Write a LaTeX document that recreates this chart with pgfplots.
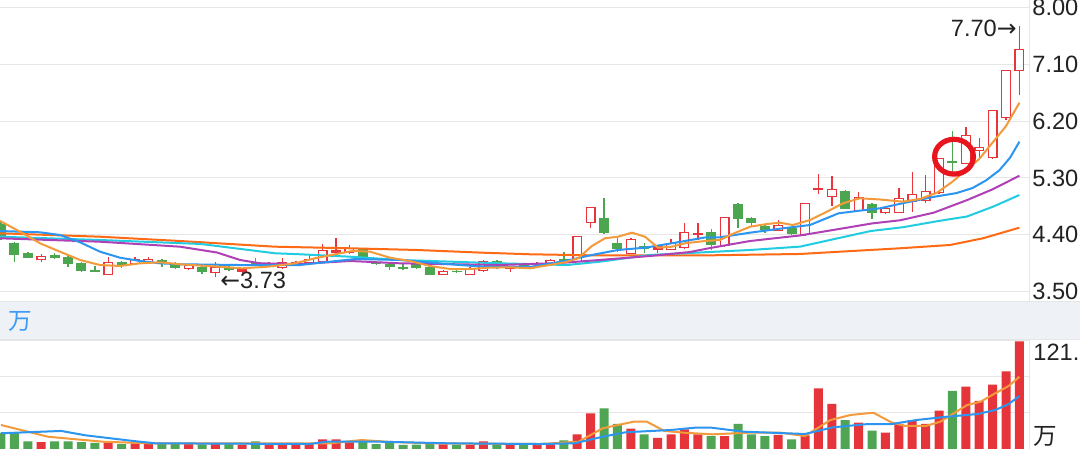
\documentclass[border=0pt]{standalone}
\usepackage{fontspec}
\setmainfont{Liberation Sans}
\newfontfamily\cjk{Noto Sans CJK SC}
\newfontfamily\dejavu{DejaVu Sans}
\usepackage{pgfplots}
\usepackage{pgfplotstable}
\pgfplotsset{compat=1.18}

\definecolor{cred}{HTML}{E8343B}
\definecolor{cgreen}{HTML}{4CA650}
\definecolor{vred}{HTML}{E5343A}
\definecolor{vgreen}{HTML}{4FA553}
\definecolor{ma5}{HTML}{F39A3A}
\definecolor{ma10}{HTML}{2B95F0}
\definecolor{ma20}{HTML}{B040B5}
\definecolor{ma30}{HTML}{22CCE0}
\definecolor{ma60}{HTML}{FF6A14}
\definecolor{gridc}{HTML}{E6E6E6}
\definecolor{bandc}{HTML}{EEF1F5}
\definecolor{labc}{HTML}{222222}
\definecolor{bluet}{HTML}{3D9BF5}
\definecolor{circred}{HTML}{E8141E}
\newcommand\lab{\fontsize{11.8}{14}\selectfont}

% i = day, o h l c = price, v = volume (wan)
\pgfplotstableread{
i o h l c v
0 4.571 4.603 4.318 4.350 18
1 4.271 4.287 3.970 4.081 18
2 4.112 4.128 4.033 4.033 8.6
4 4.081 4.112 4.017 4.033 8.6
5 4.049 4.065 3.891 3.938 8.6
6 3.954 3.970 3.812 3.828 7.8
7 3.843 3.907 3.812 3.812 6.8
9 3.970 3.986 3.875 3.907 5.6
12 4.002 4.017 3.891 3.938 5.6
13 3.954 3.970 3.859 3.875 5.6
15 3.891 3.907 3.780 3.812 5.2
17 3.891 3.907 3.828 3.843 5.6
19 3.970 4.033 3.907 3.923 8.6
27 4.176 4.191 4.002 4.017 8.6
28 3.970 3.986 3.923 3.938 5.6
29 3.938 3.954 3.843 3.891 7.5
30 3.891 3.938 3.843 3.859 4.5
31 3.938 3.954 3.859 3.875 4.9
32 3.891 3.907 3.764 3.764 5.6
34 3.828 3.843 3.796 3.812 4.9
37 3.986 4.002 3.859 3.875 5.6
39 3.938 3.954 3.891 3.907 4.9
42 4.017 4.128 3.954 3.970 9.8
45 4.666 4.983 4.413 4.429 45.7
46 4.271 4.350 4.128 4.176 28.2
48 4.223 4.271 4.112 4.176 16.5
53 4.445 4.492 4.160 4.239 14.6
55 4.888 4.904 4.508 4.650 28.2
56 4.666 4.682 4.540 4.587 16.5
57 4.540 4.555 4.429 4.476 14.6
59 4.508 4.524 4.397 4.413 10.9
63 5.093 5.109 4.809 4.809 32.6
65 4.888 4.904 4.650 4.745 20.6
71 5.568 6.043 5.378 5.536 65.3
}\greenc

\pgfplotstableread{
i o h l c v
3 4.002 4.097 3.970 4.065 7.6
8 3.764 4.049 3.764 3.970 7.8
10 3.938 4.049 3.923 4.017 6.4
11 3.954 4.049 3.938 4.017 5.6
14 3.859 3.938 3.843 3.923 5.6
16 3.796 3.970 3.733 3.891 5.6
21 3.875 4.033 3.859 3.970 5.6
23 3.954 4.081 3.938 4.017 5.6
24 3.970 4.255 3.954 4.160 10.9
26 4.112 4.239 4.097 4.191 7.5
33 3.764 3.843 3.764 3.828 5.2
35 3.764 3.891 3.764 3.859 4.9
36 3.828 4.002 3.812 3.986 8.6
41 3.923 4.017 3.907 4.002 5.2
43 3.970 4.381 3.970 4.381 16.5
44 4.587 4.840 4.508 4.840 40.1
47 4.097 4.350 4.097 4.334 22.9
50 4.160 4.334 4.160 4.271 16.5
51 4.191 4.587 4.176 4.445 22.1
54 4.223 4.682 4.207 4.682 14.6
58 4.460 4.635 4.460 4.555 15.8
60 4.397 4.904 4.381 4.904 15.4
62 4.998 5.331 4.856 5.125 50.7
64 4.777 5.078 4.777 4.998 29.6
66 4.745 4.840 4.729 4.824 18.4
67 4.745 5.141 4.745 4.983 28.2
68 4.919 5.394 4.761 5.046 32.6
69 4.935 5.347 4.904 5.093 28.2
70 5.062 5.616 5.046 5.616 43.1
72 5.521 6.106 5.521 5.979 70.1
73 5.726 5.932 5.616 5.790 54
74 5.616 6.375 5.600 6.375 72.3
75 6.248 7.008 6.217 7.008 87.4
76 6.992 7.700 6.612 7.340 121
}\redh

\pgfplotstableread{
i o h l c v
18 3.812 3.875 3.796 3.859 4.9
20 3.907 3.970 3.891 3.954 5.2
22 3.938 3.986 3.923 3.970 5.6
25 4.112 4.350 4.097 4.160 10.9
38 3.859 3.907 3.812 3.891 4.9
40 3.923 3.970 3.907 3.954 4.9
49 4.160 4.223 4.112 4.223 12.4
52 4.397 4.587 4.318 4.429 16.5
61 5.109 5.362 5.046 5.141 68.2
}\redf

\pgfplotsset{
  stick/.style 2 args={draw=none, mark=none, error bars/.cd, y dir=plus, y explicit,
    error mark=none, error bar style={draw=#1, line width=#2}},
  vbar/.style={ybar, bar width=4.5pt, bar shift=0pt, draw=none, fill=#1},
}

\begin{document}
\begin{tikzpicture}
\path[use as bounding box] (0,0) rectangle (540pt,224.5pt);
\fill[white] (0,0) rectangle (540pt,224.5pt);
\clip (0,0) rectangle (540pt,224.5pt);
\fill[bandc] (0,54.5pt) rectangle (540pt,73.5pt);
\draw[gridc, line width=0.5pt] (0,73.5pt) -- (540pt,73.5pt);
\draw[gridc, line width=0.5pt] (0,54.5pt) -- (540pt,54.5pt);
\draw[gridc, line width=0.5pt] (514.5pt,73.5pt) -- (514.5pt,224.5pt);
\draw[gridc, line width=0.5pt] (514.5pt,0pt) -- (514.5pt,54.5pt);
\node[anchor=west, inner sep=0pt, text=bluet, font=\lab\cjk] at (4pt,63.8pt) {万};

\begin{axis}[
  at={(0pt,75.5pt)}, anchor=south west, scale only axis,
  width=514.5pt, height=149pt,
  xmin=-0.0746, xmax=76.716, ymin=3.4003, ymax=8.1155,
  axis line style={draw=none}, xtick=\empty,
  ytick={3.5,4.4,5.3,6.2,7.1,8.0},
  yticklabels={3.50,4.40,5.30,6.20,7.10,8.00},
  yticklabel pos=right,
  ymajorgrids, major grid style={gridc, line width=0.5pt},
  major tick length=0pt,
  yticklabel style={font=\lab, text=labc, anchor=west, inner sep=0pt, xshift=1.5pt},
]
% wicks
\addplot[stick={cgreen}{0.7pt}] table[x=i, y=l, y error expr=\thisrow{h}-\thisrow{l}] {\greenc};
\addplot[stick={cred}{0.7pt}] table[x=i, y=l, y error expr=\thisrow{h}-\thisrow{l}] {\redh};
\addplot[stick={cred}{0.7pt}] table[x=i, y=l, y error expr=\thisrow{h}-\thisrow{l}] {\redf};
% bodies
\addplot[stick={cgreen}{5pt}] table[x=i, y=c, y error expr=\thisrow{o}-\thisrow{c}] {\greenc};
\addplot[stick={cred}{5pt}] table[x=i, y=o, y error expr=\thisrow{c}-\thisrow{o}] {\redf};
\addplot[stick={cred}{5pt}] table[x=i, y=o, y error expr=\thisrow{c}-\thisrow{o}] {\redh};
\addplot[stick={white}{3.7pt}] table[x=i, y expr=\thisrow{o}+0.021, y error expr=\thisrow{c}-\thisrow{o}-0.042] {\redh};
% moving averages
\addplot[ma60, line width=1pt] coordinates {(-0.07,4.424) (7.39,4.370) (13.36,4.302) (20.45,4.212) (26.04,4.187) (31.04,4.160) (35.97,4.117) (39.48,4.092) (44.70,4.073) (52.16,4.073) (59.63,4.097) (67.09,4.187) (70.82,4.239) (73.28,4.345) (76,4.513)};
\addplot[ma30, line width=1pt] coordinates {(-0.07,4.370) (7.39,4.318) (14.9,4.255) (20.45,4.108) (22.31,4.092) (26.04,4.054) (29.78,4.002) (37.24,3.949) (42.24,3.922) (44.70,3.975) (48.43,4.081) (55.90,4.160) (59.63,4.213) (64.9,4.46) (67.3,4.52) (70.0,4.62) (72.09,4.69) (74.03,4.845) (76,5.030)};
\addplot[ma20, line width=1pt] coordinates {(-0.07,4.345) (7.39,4.291) (13.36,4.212) (16.12,4.120) (17.84,4.002) (19.33,3.949) (22.31,3.938) (26.04,3.986) (29.78,3.949) (37.24,3.922) (41.72,3.954) (44.70,4.002) (48.43,4.065) (51.42,4.128) (52.91,4.191) (55.90,4.302) (59.63,4.390) (62.09,4.476) (65,4.58) (67.1,4.63) (69.6,4.75) (72.1,4.95) (74,5.12) (76,5.335)};
\addplot[ma10, line width=1pt] coordinates {(-0.07,4.460) (2.91,4.440) (4.40,4.397) (5.90,4.282) (7.39,4.133) (8.88,4.038) (10.37,3.986) (11.87,3.949) (13.36,3.934) (17.84,3.922) (22.31,3.922) (23.43,3.949) (26.42,4.017) (29.78,4.002) (33.51,3.934) (35.97,3.896) (39.48,3.891) (42.09,3.986) (44.10,4.081) (46.04,4.160) (48.06,4.196) (50.07,4.266) (52.54,4.358) (53.66,4.361) (55.90,4.434) (58.36,4.503) (60.37,4.555) (62.5,4.74) (64,4.78) (65.6,4.82) (67.3,4.90) (69.6,5.00) (71.3,5.06) (72.5,5.14) (73.5,5.26) (74.5,5.42) (75.3,5.62) (76,5.873)};
\addplot[ma5, line width=1pt] coordinates {(-0.07,4.619) (1.42,4.449) (2.91,4.266) (4.40,4.133) (5.90,4.002) (7.39,3.922) (8.88,3.907) (10.37,3.949) (11.87,3.965) (13.36,3.934) (15.45,3.907) (17.99,3.870) (19.93,3.896) (21.94,3.949) (23.43,4.028) (24.93,4.092) (26.19,4.144) (27.54,4.133) (29.03,4.038) (30.52,3.986) (32.01,3.907) (33.51,3.859) (35.00,3.859) (36.49,3.880) (37.99,3.886) (39.48,3.870) (42.09,3.965) (43.06,4.028) (44.10,4.223) (45.07,4.345) (46.04,4.370) (47.09,4.434) (48.06,4.370) (49.03,4.196) (50.07,4.212) (51.04,4.266) (52.54,4.302) (53.66,4.318) (54.40,4.397) (55.90,4.528) (57.16,4.571) (58.13,4.592) (59.10,4.555) (60.37,4.634) (61.64,4.766) (62.84,4.899) (64.10,4.978) (65.60,4.959) (67.31,4.924) (68.58,4.967) (69.85,5.067) (71,5.24) (72,5.42) (73,5.60) (74,5.86) (75,6.12) (76,6.49)};
% notes
\node[anchor=east, inner sep=0pt, font=\lab, text=labc] at (axis cs:75.82,7.672) {7.70{\dejavu →}};
\node[anchor=west, inner sep=0pt, font=\lab, text=labc] at (axis cs:16.34,3.685) {{\dejavu ←}3.73};
\draw[circred, line width=2.6pt] (axis cs:71.12,5.636) ellipse [x radius=9.7pt, y radius=8.7pt];
\end{axis}

\begin{axis}[
  at={(0pt,0pt)}, anchor=south west, scale only axis,
  width=514.5pt, height=54pt,
  xmin=-0.0746, xmax=76.716, ymin=0, ymax=121.5,
  axis line style={draw=none}, xtick=\empty,
  ytick={41.6,81.6,121.5}, yticklabels={},
  ymajorgrids, major grid style={gridc, line width=0.5pt},
  major tick length=0pt,
]
\addplot[vbar=vgreen] table[x=i, y=v] {\greenc};
\addplot[vbar=vred] table[x=i, y=v] {\redh};
\addplot[vbar=vred] table[x=i, y=v] {\redf};
\addplot[ma5, line width=1pt] coordinates {(0,27) (3.5,13.8) (7.6,8.2) (11.1,6.4) (16,6.4) (20,6.4) (24.6,6.4) (26.9,10.1) (29,8) (32,6.4) (36,6) (40.2,5.6) (43.1,8.2) (44.9,23.3) (47.2,30.7) (48.2,30.7) (49.5,20.3) (51,18.3) (53.1,16.5) (55.7,18.3) (58.2,18.3) (60,14.6) (61.9,32.6) (63.4,38.3) (65.1,40.8) (66.5,29.6) (67.5,25.9) (69,25.9) (70.1,30.7) (71.1,40.2) (72.1,49.5) (73.1,53.2) (74.2,62.7) (75.2,70.9) (76,81.3)};
\addplot[ma10, line width=1pt] coordinates {(0,17.7) (4.5,20.3) (6.3,15.4) (9.7,9.3) (11.5,6.4) (23,5.6) (24.3,8.2) (28.3,8.2) (33.4,6.4) (40.2,5.6) (42.8,6.4) (44.9,13.8) (46.6,18.8) (50,21.4) (51.8,24) (53,24) (55.4,19.5) (60,16.9) (62.1,24.4) (64.7,28.1) (66.5,28.1) (68.3,32.6) (70.6,36.3) (72.9,39.4) (74.2,43.9) (75.2,50.6) (76,59.6)};
\end{axis}

\node[anchor=north west, inner sep=0pt, font=\lab, text=labc] at (516.5pt,52.5pt) {121.5};
\node[anchor=south west, inner sep=0pt, font=\lab\cjk, text=labc] at (516.5pt,1pt) {万};
\end{tikzpicture}
\end{document}
